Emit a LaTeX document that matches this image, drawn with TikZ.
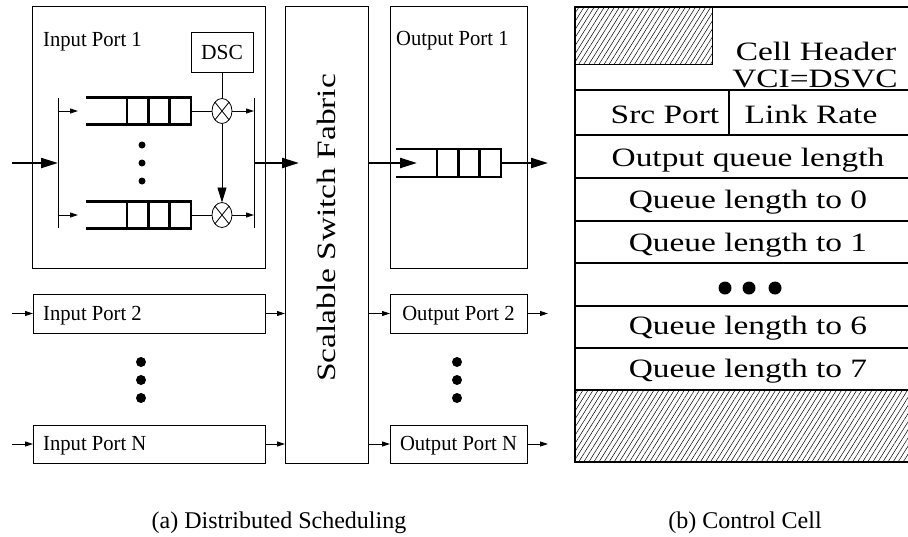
\documentclass[tikz,border=0pt]{standalone}
\usepackage{graphicx}
\usepackage{fontspec}
\setmainfont{Liberation Serif}
\usetikzlibrary{arrows.meta,calc,shapes.geometric,patterns.meta}
\begin{document}
\begin{tikzpicture}[x=1pt,y=-1pt,
  box/.style={draw,line width=0.8pt,inner sep=0pt,outer sep=0pt,anchor=north west},
  lbl/.style={inner sep=0pt,font=\fontsize{21.5}{24}\selectfont},
  big/.style={inner sep=0pt,font=\fontsize{26.5}{30}\selectfont},
  capt/.style={inner sep=0pt,font=\fontsize{24}{28}\selectfont},
  bigarrow/.style={line width=2.2pt,-{Triangle[length=17pt,width=10pt]}},
  smallarrow/.style={line width=0.9pt,-{Triangle[length=8pt,width=5pt]}},
  bus/.style={line width=1pt},
  qcells/.style={draw,line width=2.4pt,inner sep=0pt,outer sep=0pt,minimum width=64pt,minimum height=27pt},
  qline/.style={line width=2.4pt},
  mult/.style={draw,ellipse,line width=0.8pt,inner sep=0pt,outer sep=0pt,minimum width=20pt,minimum height=25pt,
    path picture={\draw[line width=0.8pt] (path picture bounding box.north west) -- (path picture bounding box.south east) (path picture bounding box.north east) -- (path picture bounding box.south west);}},
  blob/.style={circle,fill,inner sep=0pt,minimum size=#1},
  blob/.default=10pt,
  rowbox/.style={draw,line width=2.8pt,inner sep=0pt,outer sep=0pt,anchor=north west,minimum width=346pt},
  hatch/.style={pattern={Lines[angle=58,distance=4.3pt,line width=0.5pt]}},
]
\useasboundingbox (0,0) rectangle (908,536);

% ---------------- Input Port 1 ----------------
\node[box,minimum width=233pt,minimum height=262pt] (ip1) at (32,6) {};
\node[lbl,anchor=base west] (ip1t) at (43,46) {\scalebox{0.96}[1]{Input Port 1}};
\node[box,lbl,minimum width=62pt,minimum height=40pt] (dsc) at (191,32) {DSC};

\coordinate (bl1) at (58,98);
\coordinate (bl2) at (58,228);
\draw[bus] (bl1) -- (bl2);
\coordinate (in1) at (12,163);
\draw[bigarrow] (in1) -- (in1 -| bl1);

\node[qcells] (q1) at (159,111) {};
\node[qcells] (q2) at (159,215) {};
\node[qcells,minimum height=28pt] (q3) at (469,163) {};
\foreach \q in {q1,q2,q3}{
  \draw[qline] ($(\q.north west)!1/3!(\q.north east)$) -- ($(\q.south west)!1/3!(\q.south east)$);
  \draw[qline] ($(\q.north west)!2/3!(\q.north east)$) -- ($(\q.south west)!2/3!(\q.south east)$);
  \draw[qline] (\q.north west) -- ++(-41,0);
  \draw[qline] (\q.south west) -- ++(-41,0);
}

\draw[smallarrow] (q1 -| bl1) -- ++(20,0);
\draw[smallarrow] (q2 -| bl1) -- ++(20,0);

\node[blob=7pt] (qd1) at (142,145) {};
\node[blob=7pt] (qd2) at (142,163) {};
\node[blob=7pt] (qd3) at (142,181) {};

\node[mult] (m1) at (222,111) {};
\node[mult] (m2) at (222,215) {};
\draw[line width=0.8pt] (q1.east) -- (m1.west);
\draw[line width=0.8pt] (q2.east) -- (m2.west);
\draw[line width=0.8pt] (dsc.south) -- (m1.north);
\draw[line width=0.9pt,-{Triangle[length=15pt,width=9pt]}] (m1.south) -- (m2.north);

\coordinate (br1) at (254,98);
\coordinate (br2) at (254,228);
\draw[bus] (br1) -- (br2);
\draw[smallarrow] (m1.east) -- (m1.east -| br1);
\draw[smallarrow] (m2.east) -- (m2.east -| br1);

% ---------------- Switch fabric ----------------
\node[box,minimum width=83pt,minimum height=457pt] (fab) at (285,6) {};
\node[big,rotate=90] (fabt) at (326,228) {\scalebox{1.26}[1]{Scalable Switch Fabric}};
\coordinate (brm) at (254,163);
\draw[bigarrow] (brm) -- ($(brm -| fab.west)+(14,0)$);

% ---------------- Output Port 1 ----------------
\node[box,minimum width=137pt,minimum height=262pt] (op1) at (390,6) {};
\node[lbl,anchor=base west] (op1t) at (396,45) {\scalebox{0.96}[1]{Output Port 1}};
\draw[bigarrow] (q3 -| fab.east) -- ++(49,0);
\draw[bigarrow] (q3.east) -- ++(47,0);

% ---------------- Other ports ----------------
\node[box,minimum width=232pt,minimum height=39pt] (ip2) at (33,294) {};
\node[lbl,anchor=base west] (ip2t) at (43,320) {\scalebox{0.96}[1]{Input Port 2}};
\node[box,minimum width=232pt,minimum height=38pt] (ipn) at (33,425) {};
\node[lbl,anchor=base west] (ipnt) at (43,450) {\scalebox{0.96}[1]{Input Port N}};
\node[box,minimum width=137pt,minimum height=39pt] (op2) at (390,294) {};
\node[lbl,anchor=base] (op2t) at (458.5,320) {\scalebox{0.96}[1]{Output Port 2}};
\node[box,minimum width=137pt,minimum height=38pt] (opn) at (390,425) {};
\node[lbl,anchor=base] (opnt) at (458.5,450) {\scalebox{0.96}[1]{Output Port N}};

\coordinate (a2) at (12,313.5);
\coordinate (an) at (12,444);
\draw[smallarrow] (a2) -- (a2 -| ip2.west);
\draw[smallarrow] (an) -- (an -| ipn.west);
\draw[smallarrow] (ip2.east) -- (ip2.east -| fab.west);
\draw[smallarrow] (ipn.east) -- (ipn.east -| fab.west);
\draw[smallarrow] (op2.west -| fab.east) -- (op2.west);
\draw[smallarrow] (opn.west -| fab.east) -- (opn.west);
\draw[smallarrow] (op2.east) -- ++(21,0);
\draw[smallarrow] (opn.east) -- ++(21,0);

\node[blob] (id1) at (141,362) {};
\node[blob] (id2) at (141,380) {};
\node[blob] (id3) at (141,398) {};
\node[blob] (od1) at (457,362) {};
\node[blob] (od2) at (457,380) {};
\node[blob] (od3) at (457,398) {};

% ---------------- Control cell ----------------
\begin{scope}
\clip (0,0) rectangle (908,536);
\node[draw,line width=0.8pt,inner sep=0pt,outer sep=0pt,anchor=north west,minimum width=137pt,minimum height=57pt,hatch] (hh) at (575,7) {};
\node[rowbox,minimum height=83pt] (hdr) at (575,7) {};
\node[rowbox,minimum width=154pt,minimum height=45pt] (src) at (575,90) {};
\node[rowbox,minimum width=192pt,minimum height=45pt] (lnk) at (729,90) {};
\node[rowbox,minimum height=43pt] (oq) at (575,135) {};
\node[rowbox,minimum height=43pt] (r0) at (575,178) {};
\node[rowbox,minimum height=42pt] (r1) at (575,221) {};
\node[rowbox,minimum height=43pt] (rd) at (575,263) {};
\node[rowbox,minimum height=42pt] (r6) at (575,306) {};
\node[rowbox,minimum height=42pt] (r7) at (575,348) {};
\node[rowbox,minimum height=72pt,hatch] (hb) at (575,390) {};
\end{scope}

\node[big,anchor=base] (t1) at (816,60) {\scalebox{1.26}[1]{Cell Header}};
\node[big,anchor=base] (t2) at (815,87) {\scalebox{1.26}[1]{VCI=DSVC}};
\node[big,anchor=base] (t3) at (665,123) {\scalebox{1.26}[1]{Src Port}};
\node[big,anchor=base] (t4) at (811,123) {\scalebox{1.26}[1]{Link Rate}};
\node[big,anchor=base] (t5) at (748,166) {\scalebox{1.26}[1]{Output queue length}};
\node[big,anchor=base] (t6) at (748,208) {\scalebox{1.26}[1]{Queue length to 0}};
\node[big,anchor=base] (t7) at (748,251) {\scalebox{1.26}[1]{Queue length to 1}};
\node[big,anchor=base] (t8) at (748,334) {\scalebox{1.26}[1]{Queue length to 6}};
\node[big,anchor=base] (t9) at (748,377) {\scalebox{1.26}[1]{Queue length to 7}};
\node[blob=13pt] (cd1) at (725,288) {};
\node[blob=13pt] (cd2) at (749,288) {};
\node[blob=13pt] (cd3) at (775,288) {};

% ---------------- Captions ----------------
\node[capt,anchor=base] (capa) at (279,528) {(a) Distributed Scheduling};
\node[capt,anchor=base] (capb) at (745,528) {(b) Control Cell};
\end{tikzpicture}
\end{document}
